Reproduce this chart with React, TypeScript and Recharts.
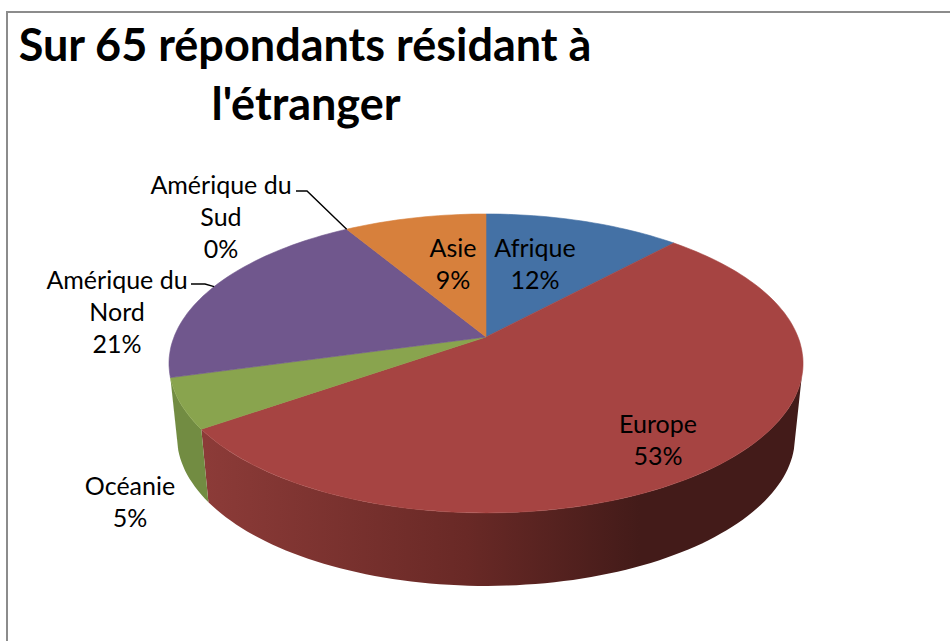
import { PieChart, Pie, Cell } from 'recharts';

const names = ['Afrique', 'Europe', 'Océanie', 'Amérique du Nord', 'Amérique du Sud', 'Asie'];
const shares = [11.9, 53.4, 5.4, 20.7, 0, 8.6];
const colors = ['#4471a5', '#a64442', '#89a44e', '#70578d', '#70578d', '#d7803c'];
const titleLines = ['Sur 65 répondants résidant à', "l'étranger"];

const chartData = names.map((name, i) => ({ name, value: shares[i] }));

const labelLayout: Record<string, { x: number; y: number; lines: string[]; leader?: [number, number, number] }> = {
  Afrique: { x: 535, y: 257, lines: ['Afrique'] },
  Europe: { x: 658, y: 433, lines: ['Europe'] },
  Océanie: { x: 130, y: 495, lines: ['Océanie'] },
  'Amérique du Nord': { x: 117, y: 289, lines: ['Amérique du', 'Nord'], leader: [191, 205, 284] },
  'Amérique du Sud': { x: 221, y: 194, lines: ['Amérique du', 'Sud'], leader: [296, 307, 191] },
  Asie: { x: 453, y: 257, lines: ['Asie'] },
};

const TILT = 0.464; // height / width of the pie seen from the camera
const PERSPECTIVE = 0.177;
const WALL_DROP = 73;
const WALL_SHRINK = 0.975;
const WALL_FROM = 105;
const WALL_TO = 255;

// theta is measured clockwise from the top of the pie
function project(cx: number, cy: number, r: number, theta: number, shrink = 1, drop = 0) {
  const t = (theta * Math.PI) / 180;
  const u = Math.sin(t);
  const v = -Math.cos(t);
  const w = 1 - PERSPECTIVE * v;
  return [cx + (shrink * r * u) / w, cy + (r * TILT * v) / w + drop];
}

function arcPoints(from: number, to: number, fn: (theta: number) => number[]) {
  const steps = Math.max(2, Math.ceil(Math.abs(to - from) / 1.5));
  const pts: number[][] = [];
  for (let i = 0; i <= steps; i++) pts.push(fn(from + ((to - from) * i) / steps));
  return pts;
}

const toPath = (pts: number[][]) =>
  'M' + pts.map((p) => `${p[0].toFixed(1)},${p[1].toFixed(1)}`).join('L') + 'Z';

function Slice3D(props: any) {
  const { cx, cy, outerRadius, startAngle, endAngle, fill, name } = props;
  const from = 90 - startAngle;
  const to = 90 - endAngle;
  if (to - from < 0.01) return null;
  const top = (t: number) => project(cx, cy, outerRadius, t);
  const bottom = (t: number) => project(cx, cy, outerRadius, t, WALL_SHRINK, WALL_DROP);
  const a = Math.max(from, WALL_FROM);
  const b = Math.min(to, WALL_TO);
  const isEurope = name === 'Europe';
  return (
    <g>
      {a < b && (
        <path
          d={toPath([...arcPoints(a, b, top), ...arcPoints(b, a, bottom)])}
          fill={isEurope ? 'url(#europeWall)' : '#728c42'}
        />
      )}
      <path
        d={toPath([[cx, cy], ...arcPoints(from, to, top)])}
        fill={fill}
        stroke={fill}
        strokeWidth={0.6}
      />
    </g>
  );
}

function SliceLabel(props: any) {
  const { name, percent } = props;
  const spec = labelLayout[name];
  if (!spec) return null;
  const rows = [...spec.lines, `${Math.round((percent ?? 0) * 100)}%`];
  return (
    <text
      x={spec.x}
      y={spec.y}
      textAnchor="middle"
      fontFamily="Lato"
      fontSize={25}
      fill="#000"
      stroke="none"
    >
      {rows.map((row, i) => (
        <tspan key={i} x={spec.x} dy={i === 0 ? 0 : 32}>
          {row}
        </tspan>
      ))}
    </text>
  );
}

function LeaderLine(props: any) {
  const { name, cx, cy, outerRadius, midAngle } = props;
  const spec = labelLayout[name];
  if (!spec || !spec.leader) return null;
  const [x0, x1, y] = spec.leader;
  const end = project(cx, cy, outerRadius, 90 - midAngle);
  return (
    <polyline
      points={`${x0},${y} ${x1},${y} ${end[0]},${end[1]}`}
      fill="none"
      stroke="#000"
      strokeWidth={1.4}
    />
  );
}

export default function App() {
  return (
    <div style={{ position: 'absolute', left: 0, top: 0, width: 950, height: 641, background: '#fff', overflow: 'hidden' }}>
      <div
        style={{
          position: 'absolute',
          left: 6,
          top: 11,
          width: 950,
          height: 640,
          borderLeft: '2px solid #8c8c8c',
          borderTop: '2px solid #8c8c8c',
        }}
      />
      <PieChart width={950} height={641} margin={{ top: 0, right: 0, bottom: 0, left: 0 }} style={{ position: 'absolute', left: 0, top: 0 }}>
        <defs>
          <linearGradient id="europeWall" gradientUnits="userSpaceOnUse" x1={205} y1={0} x2={640} y2={0}>
            <stop offset="0" stopColor="#8c3b38" />
            <stop offset="0.6" stopColor="#692926" />
            <stop offset="1" stopColor="#431b19" />
          </linearGradient>
        </defs>
        <text textAnchor="middle" fontFamily="Lato" fontWeight={700} fontSize={45} fill="#000">
          <tspan x={305} y={61}>{titleLines[0]}</tspan>
          <tspan x={306} y={120}>{titleLines[1]}</tspan>
        </text>
        <Pie
          data={chartData}
          dataKey="value"
          nameKey="name"
          cx={486}
          cy={337}
          innerRadius={0}
          outerRadius={312}
          startAngle={90}
          endAngle={-270}
          stroke="none"
          shape={Slice3D}
          label={SliceLabel}
          labelLine={LeaderLine}
          isAnimationActive={false}
        >
          {chartData.map((d, i) => (
            <Cell key={d.name} fill={colors[i]} />
          ))}
        </Pie>
      </PieChart>
    </div>
  );
}
